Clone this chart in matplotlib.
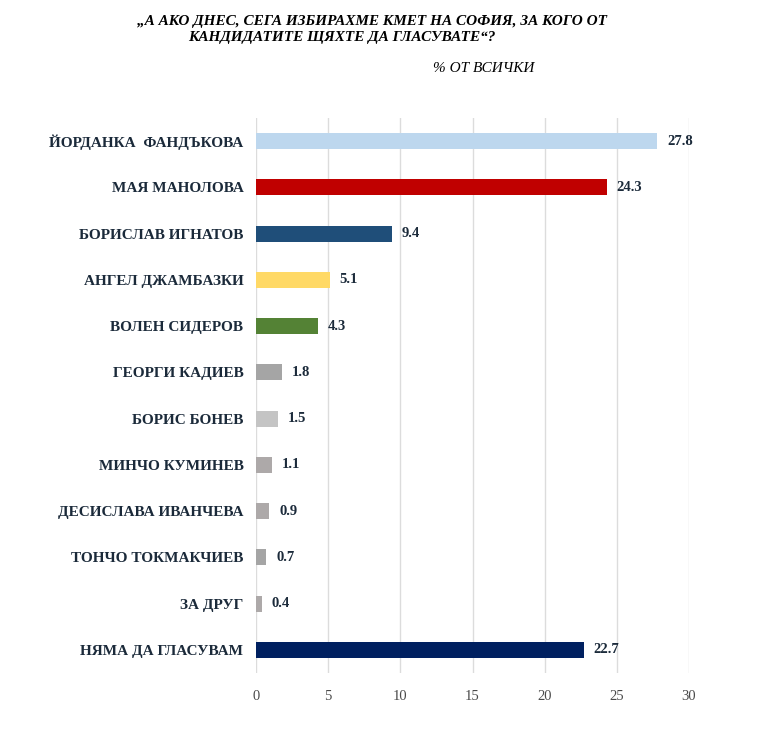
import numpy as np
import matplotlib.pyplot as plt

# ---------
# The data
names = [
    "ЙОРДАНКА  ФАНДЪКОВА",
    "МАЯ МАНОЛОВА",
    "БОРИСЛАВ ИГНАТОВ",
    "АНГЕЛ ДЖАМБАЗКИ",
    "ВОЛЕН СИДЕРОВ",
    "ГЕОРГИ КАДИЕВ",
    "БОРИС БОНЕВ",
    "МИНЧО КУМИНЕВ",
    "ДЕСИСЛАВА ИВАНЧЕВА",
    "ТОНЧО ТОКМАКЧИЕВ",
    "ЗА ДРУГ",
    "НЯМА ДА ГЛАСУВАМ",
]
values = [27.8, 24.3, 9.4, 5.1, 4.3, 1.8, 1.5, 1.1, 0.9, 0.7, 0.4, 22.7]
colors = ["#BDD7EE", "#C00000", "#1F4E79", "#FFD966", "#548235", "#A5A5A5",
          "#C4C4C4", "#ADA9A9", "#ADA9A9", "#A5A5A5", "#ADA9A9", "#002060"]
xticks = [0, 5, 10, 15, 20, 25, 30]

title1 = "„А АКО ДНЕС, СЕГА ИЗБИРАХМЕ КМЕТ НА СОФИЯ, ЗА КОГО ОТ"
title2 = "КАНДИДАТИТЕ ЩЯХТЕ ДА ГЛАСУВАТЕ“?"
subtitle = "% ОТ ВСИЧКИ"

plt.rcParams["font.family"] = ["Liberation Serif", "DejaVu Serif"]
txt = "#1B2A3A"

# -------------
# Plot the bars
fig = plt.figure(figsize=(7.58, 7.35), dpi=100)
ax = fig.add_axes([256/758, 1 - 673/735, (689 - 256)/758, (673 - 118)/735])

y = np.arange(len(names))
ax.barh(y, values, height=0.35, color=colors, zorder=3)

for yi, v in zip(y, values):
    ax.text(v + 0.7, yi, "%.1f" % v, va="center", ha="left",
            fontsize=10.5, fontweight="bold", color=txt)

ax.set_xlim(0, 30)
ax.set_ylim(len(names) - 0.5, -0.5)
ax.set_xticks(xticks)
ax.set_xticklabels([str(t) for t in xticks], fontsize=10.5, color="#4A4A4A")
ax.set_yticks(y)
ax.set_yticklabels(names, fontsize=11, fontweight="bold", color=txt)
ax.tick_params(axis="y", length=0, pad=9)
ax.tick_params(axis="x", length=0, pad=12)
ax.grid(axis="x", color="#DCDCDC", linewidth=1, zorder=0)
for s in ax.spines.values():
    s.set_visible(False)

fig.text(137/758, 1 - 21/735, title1, fontsize=11, fontweight="bold",
         fontstyle="italic", ha="left", va="center", color="black")
fig.text(188/758, 1 - 38/735, title2, fontsize=11, fontweight="bold",
         fontstyle="italic", ha="left", va="center", color="black")
fig.text(433/758, 1 - 69/735, subtitle, fontsize=11, fontstyle="italic",
         ha="left", va="center", color="black")

fig.savefig("out.png", dpi=100)
